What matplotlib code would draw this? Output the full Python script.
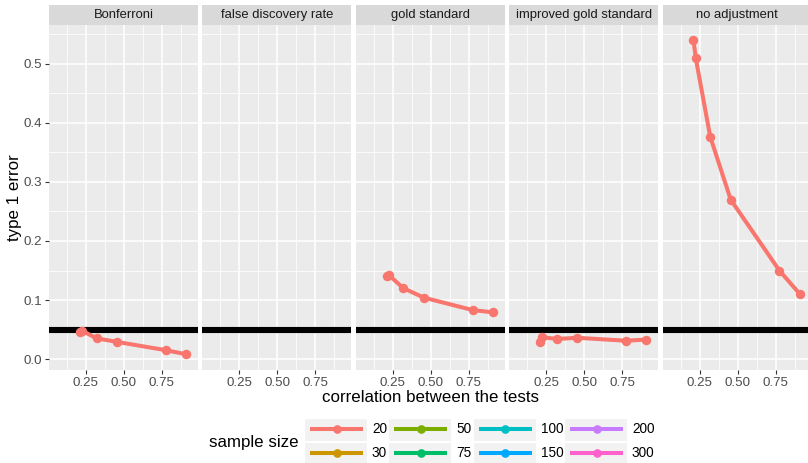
import numpy as np
import matplotlib.pyplot as plt
from matplotlib.patches import Rectangle
from matplotlib.lines import Line2D

plt.rcParams["font.family"] = ["Liberation Sans", "DejaVu Sans"]

# data
panels = ["Bonferroni", "false discovery rate", "gold standard",
          "improved gold standard", "no adjustment"]
corr = [0.21, 0.225, 0.32, 0.455, 0.775, 0.91]
err_bonf = [0.045, 0.048, 0.035, 0.029, 0.015, 0.008]
err_fdr = [np.nan] * 6
err_gold = [0.140, 0.142, 0.120, 0.104, 0.083, 0.079]
err_impr = [0.028, 0.037, 0.034, 0.036, 0.031, 0.033]
err_none = [0.541, 0.510, 0.377, 0.270, 0.150, 0.110]
errors = [err_bonf, err_fdr, err_gold, err_impr, err_none]
alpha_level = 0.05

sizes = ["20", "30", "50", "75", "100", "150", "200", "300"]
size_colors = ["#F8766D", "#CD9600", "#7CAE00", "#00BE67",
               "#00BFC4", "#00A9FF", "#C77CFF", "#FF61CC"]

W, H = 808, 463
fig = plt.figure(figsize=(W / 100, H / 100), dpi=100)

pan_w, step = 149, 153.4
top, bot = 25, 370
for i, name in enumerate(panels):
    left = 49 + i * step
    ax = fig.add_axes([left / W, (H - bot) / H, pan_w / W, (bot - top) / H])
    ax.set_facecolor("#EBEBEB")
    ax.set_xlim(0.007, 0.987)
    ax.set_ylim(-0.0186, 0.566)
    ax.set_xticks([0.25, 0.5, 0.75])
    ax.set_xticklabels(["0.25", "0.50", "0.75"])
    ax.set_xticks([0.125, 0.375, 0.625, 0.875], minor=True)
    ax.set_yticks([0.0, 0.1, 0.2, 0.3, 0.4, 0.5])
    ax.set_yticks(np.arange(0.05, 0.56, 0.1), minor=True)
    ax.grid(which="major", color="white", lw=1.1)
    ax.grid(which="minor", color="white", lw=0.55)
    ax.set_axisbelow(True)
    for s in ax.spines.values():
        s.set_visible(False)
    ax.tick_params(which="minor", length=0)
    ax.tick_params(which="major", length=3, width=0.8, color="#333333",
                   labelsize=9.6, labelcolor="#4D4D4D", pad=2)
    if i > 0:
        ax.tick_params(axis="y", left=False, labelleft=False)

    ax.axhline(alpha_level, color="black", lw=4.4, zorder=2)
    ax.plot(corr, errors[i], color=size_colors[0], lw=2.9,
            marker="o", ms=5.8, zorder=3, solid_capstyle="butt")

    # facet strip
    sx = fig.add_axes([left / W, (H - top) / H, pan_w / W, 20 / H])
    sx.set_facecolor("#D9D9D9")
    sx.set_xticks([])
    sx.set_yticks([])
    for s in sx.spines.values():
        s.set_visible(False)
    sx.text(0.5, 0.5, name, ha="center", va="center", fontsize=9.4,
            color="#1A1A1A", transform=sx.transAxes)

fig.text(15 / W, 1 - 197.5 / H, "type 1 error", rotation=90,
         ha="center", va="center", fontsize=12.2)
fig.text(431 / W, 1 - 397 / H, "correlation between the tests",
         ha="center", va="center", fontsize=12.2)

# legend drawn by hand (ggplot style keys)
lax = fig.add_axes([0, 0, 1, 1])
lax.set_xlim(0, W)
lax.set_ylim(H, 0)
lax.axis("off")
lax.patch.set_alpha(0)
lax.text(209, 442.5, "sample size", ha="left", va="center", fontsize=12.2)
col_x = [304, 388.3, 472.7, 564]
row_y = [417.5, 441.5]
key_w, key_h = 63, 23
for k, (lab, col) in enumerate(zip(sizes, size_colors)):
    x0 = col_x[k // 2]
    y0 = row_y[k % 2]
    lax.add_patch(Rectangle((x0, y0), key_w, key_h, facecolor="#F2F2F2",
                            edgecolor="white", lw=0.8))
    yc = y0 + key_h / 2
    lax.add_line(Line2D([x0 + 6, x0 + key_w - 4], [yc, yc], color=col,
                        lw=2.9, solid_capstyle="butt"))
    lax.plot([x0 + key_w / 2 + 1], [yc], "o", color=col, ms=5.2)
    lax.text(x0 + key_w + 5, yc, lab, ha="left", va="center",
             fontsize=9.8, color="#000000")

fig.savefig("out.png", dpi=100)
